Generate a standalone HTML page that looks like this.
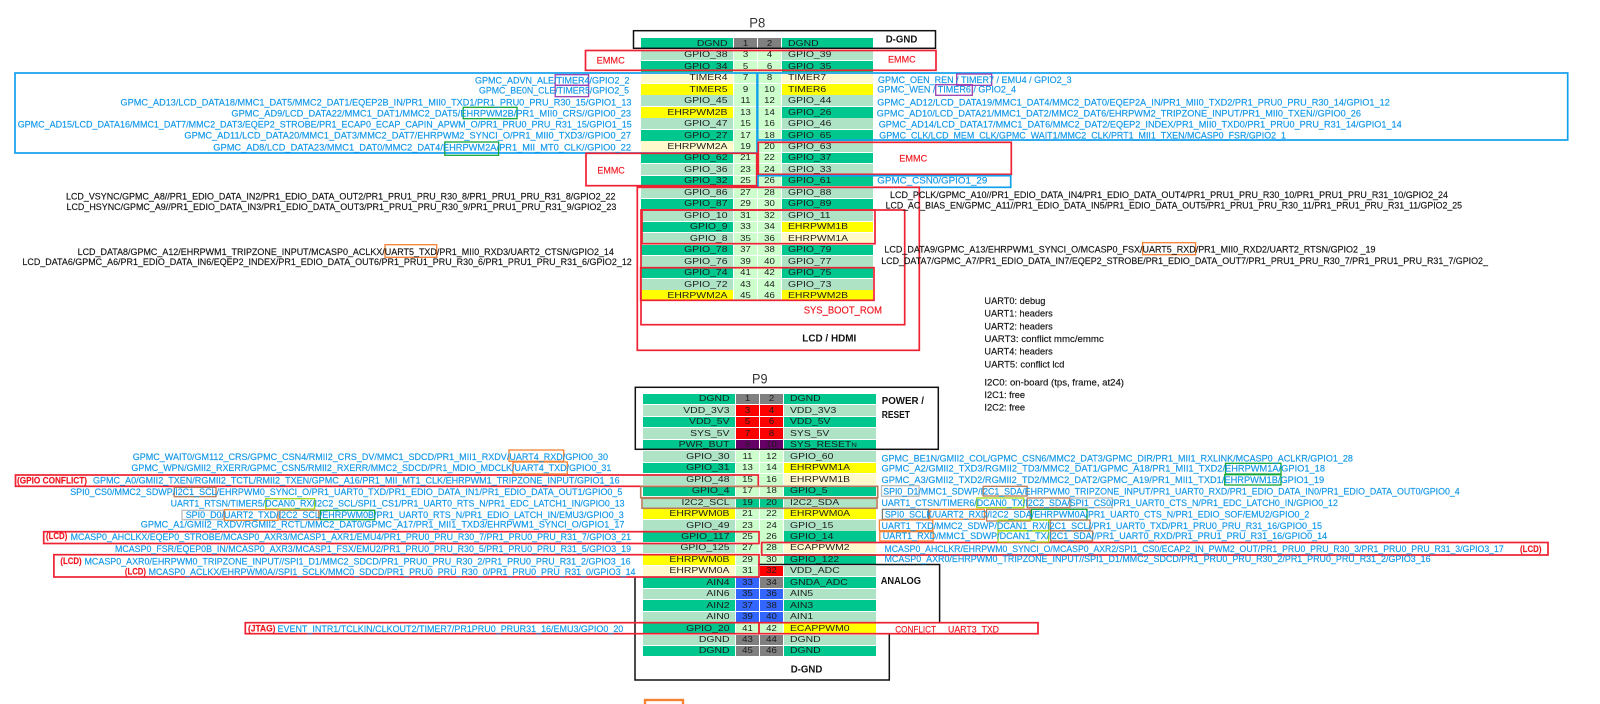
<!DOCTYPE html>
<html><head><meta charset="utf-8"><title>BeagleBone P8 P9</title>
<style>
html,body{margin:0;padding:0;background:#fff}
#w{position:relative;width:1600px;height:704px;overflow:hidden;background:#fff;font-family:"Liberation Sans",sans-serif}
.r{position:absolute;left:0;width:1600px;height:10.5px}
.r b{position:absolute;top:0;height:10.5px;font-weight:normal;font-size:8px;line-height:10.5px;color:#1c1c1c;white-space:nowrap}
.r i{display:block;font-style:normal;position:relative;top:.8px}
.p8 .a{left:641px;width:92px}.p8 .b{left:734px;width:23px}.p8 .c{left:758px;width:23px}.p8 .d{left:782px;width:91px}
.p9 .a{left:643px;width:92px}.p9 .b{left:736px;width:23px}.p9 .c{left:760px;width:23px}.p9 .d{left:784px;width:92px}
.a i{text-align:right;margin-right:5.5px;transform:scaleX(1.3);transform-origin:100% 50%}
.d i{text-align:left;margin-left:5.5px;transform:scaleX(1.3);transform-origin:0 50%}
.b i,.c i{text-align:center;transform:scaleX(1.2);transform-origin:50% 50%}
.b,.c{background:#ccffcc}
.g{background:#00c78e}.l{background:#aee3c6}.y{background:#ffff00}.p{background:#fff9cc}
.b.k,.c.k{background:#808080}.b.x,.c.x{background:#ff0000}.b.u,.c.u{background:#660066}.b.e,.c.e{background:#3366ff}.b.g,.c.g{background:#00c78e}
svg{position:absolute;left:0;top:0}
svg text{font-family:"Liberation Sans",sans-serif;font-size:9.5px}
.bl{fill:#0f96e8;stroke:#0f96e8;stroke-width:.15}.n{fill:#111;stroke:#111;stroke-width:.15}.rd{fill:#f0141e;stroke:#f0141e;stroke-width:.15}
.bd{font-weight:bold;font-size:10px;fill:#111}
.ti{font-size:14px;fill:#333}
rect{fill:none}
.B{stroke:#10a0ee;stroke-width:1.7}.R{stroke:#ee2233;stroke-width:1.7}.K{stroke:#111;stroke-width:1.5}
.Pu{stroke:#9a3fb0;stroke-width:1.3}.Gr{stroke:#13a538;stroke-width:1.3}.O{stroke:#f58233;stroke-width:1.3}
.Br{stroke:#b87a58;stroke-width:1.3}.Li{stroke:#a3d91a;stroke-width:1.3}.Gy{stroke:#bbbbbb;stroke-width:1.3}.Dg{stroke:#777;stroke-width:1.3}
</style></head><body><div id="w">

<div class="r p8" style="top:38px"><b class="a g"><i>DGND</i></b><b class="b k"><i>1</i></b><b class="c k"><i>2</i></b><b class="d g"><i>DGND</i></b></div>
<div class="r p8" style="top:49.5px"><b class="a l"><i>GPIO_38</i></b><b class="b"><i>3</i></b><b class="c"><i>4</i></b><b class="d l"><i>GPIO_39</i></b></div>
<div class="r p8" style="top:61px"><b class="a g"><i>GPIO_34</i></b><b class="b"><i>5</i></b><b class="c"><i>6</i></b><b class="d g"><i>GPIO_35</i></b></div>
<div class="r p8" style="top:72px"><b class="a p"><i>TIMER4</i></b><b class="b"><i>7</i></b><b class="c"><i>8</i></b><b class="d p"><i>TIMER7</i></b></div>
<div class="r p8" style="top:84px"><b class="a y"><i>TIMER5</i></b><b class="b"><i>9</i></b><b class="c"><i>10</i></b><b class="d y"><i>TIMER6</i></b></div>
<div class="r p8" style="top:95px"><b class="a l"><i>GPIO_45</i></b><b class="b"><i>11</i></b><b class="c"><i>12</i></b><b class="d l"><i>GPIO_44</i></b></div>
<div class="r p8" style="top:107px"><b class="a y"><i>EHRPWM2B</i></b><b class="b"><i>13</i></b><b class="c"><i>14</i></b><b class="d g"><i>GPIO_26</i></b></div>
<div class="r p8" style="top:118px"><b class="a l"><i>GPIO_47</i></b><b class="b"><i>15</i></b><b class="c"><i>16</i></b><b class="d l"><i>GPIO_46</i></b></div>
<div class="r p8" style="top:130px"><b class="a g"><i>GPIO_27</i></b><b class="b"><i>17</i></b><b class="c"><i>18</i></b><b class="d g"><i>GPIO_65</i></b></div>
<div class="r p8" style="top:141px"><b class="a p"><i>EHRPWM2A</i></b><b class="b"><i>19</i></b><b class="c"><i>20</i></b><b class="d l"><i>GPIO_63</i></b></div>
<div class="r p8" style="top:152.5px"><b class="a g"><i>GPIO_62</i></b><b class="b"><i>21</i></b><b class="c"><i>22</i></b><b class="d g"><i>GPIO_37</i></b></div>
<div class="r p8" style="top:164px"><b class="a l"><i>GPIO_36</i></b><b class="b"><i>23</i></b><b class="c"><i>24</i></b><b class="d l"><i>GPIO_33</i></b></div>
<div class="r p8" style="top:175.5px"><b class="a g"><i>GPIO_32</i></b><b class="b"><i>25</i></b><b class="c"><i>26</i></b><b class="d g"><i>GPIO_61</i></b></div>
<div class="r p8" style="top:187px"><b class="a l"><i>GPIO_86</i></b><b class="b"><i>27</i></b><b class="c"><i>28</i></b><b class="d l"><i>GPIO_88</i></b></div>
<div class="r p8" style="top:198.5px"><b class="a g"><i>GPIO_87</i></b><b class="b"><i>29</i></b><b class="c"><i>30</i></b><b class="d g"><i>GPIO_89</i></b></div>
<div class="r p8" style="top:210px"><b class="a l"><i>GPIO_10</i></b><b class="b"><i>31</i></b><b class="c"><i>32</i></b><b class="d l"><i>GPIO_11</i></b></div>
<div class="r p8" style="top:221.5px"><b class="a g"><i>GPIO_9</i></b><b class="b"><i>33</i></b><b class="c"><i>34</i></b><b class="d y"><i>EHRPWM1B</i></b></div>
<div class="r p8" style="top:233px"><b class="a l"><i>GPIO_8</i></b><b class="b"><i>35</i></b><b class="c"><i>36</i></b><b class="d p"><i>EHRPWM1A</i></b></div>
<div class="r p8" style="top:244.5px"><b class="a g"><i>GPIO_78</i></b><b class="b"><i>37</i></b><b class="c"><i>38</i></b><b class="d g"><i>GPIO_79</i></b></div>
<div class="r p8" style="top:256px"><b class="a l"><i>GPIO_76</i></b><b class="b"><i>39</i></b><b class="c"><i>40</i></b><b class="d l"><i>GPIO_77</i></b></div>
<div class="r p8" style="top:267.5px"><b class="a g"><i>GPIO_74</i></b><b class="b"><i>41</i></b><b class="c"><i>42</i></b><b class="d g"><i>GPIO_75</i></b></div>
<div class="r p8" style="top:279px"><b class="a l"><i>GPIO_72</i></b><b class="b"><i>43</i></b><b class="c"><i>44</i></b><b class="d l"><i>GPIO_73</i></b></div>
<div class="r p8" style="top:290px"><b class="a y"><i>EHRPWM2A</i></b><b class="b"><i>45</i></b><b class="c"><i>46</i></b><b class="d y"><i>EHRPWM2B</i></b></div>

<div class="r p9" style="top:393.5px"><b class="a g"><i>DGND</i></b><b class="b k"><i>1</i></b><b class="c k"><i>2</i></b><b class="d g"><i>DGND</i></b></div>
<div class="r p9" style="top:405px"><b class="a l"><i>VDD_3V3</i></b><b class="b x"><i>3</i></b><b class="c x"><i>4</i></b><b class="d l"><i>VDD_3V3</i></b></div>
<div class="r p9" style="top:416.5px"><b class="a g"><i>VDD_5V</i></b><b class="b x"><i>5</i></b><b class="c x"><i>6</i></b><b class="d g"><i>VDD_5V</i></b></div>
<div class="r p9" style="top:428px"><b class="a l"><i>SYS_5V</i></b><b class="b x"><i>7</i></b><b class="c x"><i>8</i></b><b class="d l"><i>SYS_5V</i></b></div>
<div class="r p9" style="top:439.5px"><b class="a g"><i>PWR_BUT</i></b><b class="b u"><i>9</i></b><b class="c u"><i>10</i></b><b class="d g"><i>SYS_RESET<small style="font-size:6px">N</small></i></b></div>
<div class="r p9" style="top:451px"><b class="a l"><i>GPIO_30</i></b><b class="b"><i>11</i></b><b class="c"><i>12</i></b><b class="d l"><i>GPIO_60</i></b></div>
<div class="r p9" style="top:462.5px"><b class="a g"><i>GPIO_31</i></b><b class="b"><i>13</i></b><b class="c"><i>14</i></b><b class="d y"><i>EHRPWM1A</i></b></div>
<div class="r p9" style="top:474px"><b class="a l"><i>GPIO_48</i></b><b class="b"><i>15</i></b><b class="c"><i>16</i></b><b class="d p"><i>EHRPWM1B</i></b></div>
<div class="r p9" style="top:485.5px"><b class="a g"><i>GPIO_4</i></b><b class="b"><i>17</i></b><b class="c"><i>18</i></b><b class="d g"><i>GPIO_5</i></b></div>
<div class="r p9" style="top:497px"><b class="a l"><i>I2C2_SCL</i></b><b class="b g"><i>19</i></b><b class="c g"><i>20</i></b><b class="d l"><i>I2C2_SDA</i></b></div>
<div class="r p9" style="top:508px"><b class="a y"><i>EHRPWM0B</i></b><b class="b"><i>21</i></b><b class="c"><i>22</i></b><b class="d y"><i>EHRPWM0A</i></b></div>
<div class="r p9" style="top:520px"><b class="a l"><i>GPIO_49</i></b><b class="b"><i>23</i></b><b class="c"><i>24</i></b><b class="d l"><i>GPIO_15</i></b></div>
<div class="r p9" style="top:531px"><b class="a g"><i>GPIO_117</i></b><b class="b"><i>25</i></b><b class="c"><i>26</i></b><b class="d g"><i>GPIO_14</i></b></div>
<div class="r p9" style="top:542.5px"><b class="a l"><i>GPIO_125</i></b><b class="b"><i>27</i></b><b class="c"><i>28</i></b><b class="d p"><i>ECAPPWM2</i></b></div>
<div class="r p9" style="top:554px"><b class="a y"><i>EHRPWM0B</i></b><b class="b"><i>29</i></b><b class="c"><i>30</i></b><b class="d g"><i>GPIO_122</i></b></div>
<div class="r p9" style="top:565.5px"><b class="a p"><i>EHRPWM0A</i></b><b class="b"><i>31</i></b><b class="c x"><i>32</i></b><b class="d l"><i>VDD_ADC</i></b></div>
<div class="r p9" style="top:577px"><b class="a g"><i>AIN4</i></b><b class="b e"><i>33</i></b><b class="c k"><i>34</i></b><b class="d g"><i>GNDA_ADC</i></b></div>
<div class="r p9" style="top:588.5px"><b class="a l"><i>AIN6</i></b><b class="b e"><i>35</i></b><b class="c e"><i>36</i></b><b class="d l"><i>AIN5</i></b></div>
<div class="r p9" style="top:600px"><b class="a g"><i>AIN2</i></b><b class="b e"><i>37</i></b><b class="c e"><i>38</i></b><b class="d g"><i>AIN3</i></b></div>
<div class="r p9" style="top:611.5px"><b class="a l"><i>AIN0</i></b><b class="b e"><i>39</i></b><b class="c e"><i>40</i></b><b class="d l"><i>AIN1</i></b></div>
<div class="r p9" style="top:623px"><b class="a g"><i>GPIO_20</i></b><b class="b"><i>41</i></b><b class="c"><i>42</i></b><b class="d y"><i>ECAPPWM0</i></b></div>
<div class="r p9" style="top:634.5px"><b class="a l"><i>DGND</i></b><b class="b k"><i>43</i></b><b class="c k"><i>44</i></b><b class="d l"><i>DGND</i></b></div>
<div class="r p9" style="top:645.5px"><b class="a g"><i>DGND</i></b><b class="b k"><i>45</i></b><b class="c k"><i>46</i></b><b class="d g"><i>DGND</i></b></div>

<svg width="1600" height="704" viewBox="0 0 1600 704" xmlns="http://www.w3.org/2000/svg">
<!-- P8 boxes -->
<rect class="K" x="633.5" y="30.7" width="302" height="17.6"/>
<rect class="B" x="15" y="73" width="742" height="80"/>
<rect class="B" x="757.7" y="73" width="810" height="67"/>
<rect class="R" x="585.5" y="50.5" width="350.5" height="19.8"/>
<rect class="R" x="586" y="153.3" width="170.7" height="32.4"/>
<rect class="R" x="758.3" y="142.3" width="253" height="32"/>
<rect class="B" x="758" y="175.7" width="252.7" height="11.6"/>
<rect class="R" x="637.3" y="187.3" width="282" height="163"/>
<rect class="R" x="641" y="210" width="263.7" height="114.7"/>
<rect class="R" x="642" y="210" width="233" height="33.7"/>
<rect class="R" x="640.7" y="267.7" width="233.3" height="32.6"/>
<rect class="Pu" x="555.2" y="74.7" width="33.4" height="10.6"/>
<rect class="Pu" x="555.2" y="85.3" width="33.4" height="11.4"/>
<rect class="Gr" x="463.2" y="107.3" width="53.8" height="11.4"/>
<rect class="Gr" x="444.8" y="142" width="53.8" height="13.3"/>
<rect class="Pu" x="956.7" y="74" width="35" height="11.3"/>
<rect class="Pu" x="935.7" y="84.7" width="36.6" height="10.6"/>
<rect class="O" x="385" y="244.7" width="51.7" height="12.6"/>
<rect class="O" x="1142.6" y="242.7" width="53" height="12"/>

<!-- P8 text -->
<text class="ti" x="749.3" y="27.7" textLength="16" lengthAdjust="spacingAndGlyphs">P8</text>
<text class="bd" x="885.7" y="42.5" textLength="31.6" lengthAdjust="spacingAndGlyphs">D-GND</text>
<text class="rd" x="596.6" y="63.7" textLength="28.2" lengthAdjust="spacingAndGlyphs">EMMC</text>
<text class="rd" x="888" y="62.3" textLength="27.7" lengthAdjust="spacingAndGlyphs">EMMC</text>
<text class="rd" x="597.4" y="173.7" textLength="27.4" lengthAdjust="spacingAndGlyphs">EMMC</text>
<text class="rd" x="899.3" y="161.3" textLength="28" lengthAdjust="spacingAndGlyphs">EMMC</text>

<text class="bl" x="475" y="83.7" textLength="154.5" lengthAdjust="spacingAndGlyphs">GPMC_ADVN_ALE/TIMER4/GPIO2_2</text>
<text class="bl" x="479" y="93.7" textLength="150" lengthAdjust="spacingAndGlyphs">GPMC_BE0N_CLE/TIMER5/GPIO2_5</text>
<text class="bl" x="120.5" y="105.3" textLength="511" lengthAdjust="spacingAndGlyphs">GPMC_AD13/LCD_DATA18/MMC1_DAT5/MMC2_DAT1/EQEP2B_IN/PR1_MII0_TXD1/PR1_PRU0_PRU_R30_15/GPIO1_13</text>
<text class="bl" x="231.4" y="116.3" textLength="399.6" lengthAdjust="spacingAndGlyphs">GPMC_AD9/LCD_DATA22/MMC1_DAT1/MMC2_DAT5/EHRPWM2B/PR1_MII0_CRS//GPIO0_23</text>
<text class="bl" x="17.7" y="127.3" textLength="614" lengthAdjust="spacingAndGlyphs">GPMC_AD15/LCD_DATA16/MMC1_DAT7/MMC2_DAT3/EQEP2_STROBE/PR1_ECAP0_ECAP_CAPIN_APWM_O/PR1_PRU0_PRU_R31_15/GPIO1_15</text>
<text class="bl" x="184.4" y="138.3" textLength="446.6" lengthAdjust="spacingAndGlyphs">GPMC_AD11/LCD_DATA20/MMC1_DAT3/MMC2_DAT7/EHRPWM2_SYNCI_O/PR1_MII0_TXD3//GPIO0_27</text>
<text class="bl" x="213.3" y="150.3" textLength="417.7" lengthAdjust="spacingAndGlyphs">GPMC_AD8/LCD_DATA23/MMC1_DAT0/MMC2_DAT4/EHRPWM2A/PR1_MII_MT0_CLK//GPIO0_22</text>

<text class="bl" x="878" y="83" textLength="193.7" lengthAdjust="spacingAndGlyphs">GPMC_OEN_REN / TIMER7 / EMU4 / GPIO2_3</text>
<text class="bl" x="877.3" y="92.7" textLength="138.7" lengthAdjust="spacingAndGlyphs">GPMC_WEN / TIMER6 / GPIO2_4</text>
<text class="bl" x="877.3" y="105.3" textLength="512.5" lengthAdjust="spacingAndGlyphs">GPMC_AD12/LCD_DATA19/MMC1_DAT4/MMC2_DAT0/EQEP2A_IN/PR1_MII0_TXD2/PR1_PRU0_PRU_R30_14/GPIO1_12</text>
<text class="bl" x="876.7" y="116.3" textLength="484.3" lengthAdjust="spacingAndGlyphs">GPMC_AD10/LCD_DATA21/MMC1_DAT2/MMC2_DAT6/EHRPWM2_TRIPZONE_INPUT/PR1_MII0_TXEN//GPIO0_26</text>
<text class="bl" x="878.7" y="127.3" textLength="523" lengthAdjust="spacingAndGlyphs">GPMC_AD14/LCD_DATA17/MMC1_DAT6/MMC2_DAT2/EQEP2_INDEX/PR1_MII0_TXD0/PR1_PRU0_PRU_R31_14/GPIO1_14</text>
<text class="bl" x="879.3" y="138.7" textLength="406.7" lengthAdjust="spacingAndGlyphs">GPMC_CLK/LCD_MEM_CLK/GPMC_WAIT1/MMC2_CLK/PRT1_MII1_TXEN/MCASP0_FSR/GPIO2_1</text>
<text class="bl" x="877.3" y="183.7" textLength="110" lengthAdjust="spacingAndGlyphs">GPMC_CSN0/GPIO1_29</text>

<text class="n" x="66" y="199.7" textLength="549.5" lengthAdjust="spacingAndGlyphs">LCD_VSYNC/GPMC_A8//PR1_EDIO_DATA_IN2/PR1_EDIO_DATA_OUT2/PR1_PRU1_PRU_R30_8/PR1_PRU1_PRU_R31_8/GPIO2_22</text>
<text class="n" x="66.5" y="210" textLength="549.8" lengthAdjust="spacingAndGlyphs">LCD_HSYNC/GPMC_A9//PR1_EDIO_DATA_IN3/PR1_EDIO_DATA_OUT3/PR1_PRU1_PRU_R30_9/PR1_PRU1_PRU_R31_9/GPIO2_23</text>
<text class="n" x="77.6" y="255" textLength="536.3" lengthAdjust="spacingAndGlyphs">LCD_DATA8/GPMC_A12/EHRPWM1_TRIPZONE_INPUT/MCASP0_ACLKX/UART5_TXD/PR1_MII0_RXD3/UART2_CTSN/GPIO2_14</text>
<text class="n" x="22.4" y="265" textLength="609.4" lengthAdjust="spacingAndGlyphs">LCD_DATA6/GPMC_A6/PR1_EDIO_DATA_IN6/EQEP2_INDEX/PR1_EDIO_DATA_OUT6/PR1_PRU1_PRU_R30_6/PR1_PRU1_PRU_R31_6/GPIO2_12</text>
<text class="n" x="890" y="198" textLength="558" lengthAdjust="spacingAndGlyphs">LCD_PCLK/GPMC_A10//PR1_EDIO_DATA_IN4/PR1_EDIO_DATA_OUT4/PR1_PRU1_PRU_R30_10/PR1_PRU1_PRU_R31_10/GPIO2_24</text>
<text class="n" x="885.6" y="208.5" textLength="576.4" lengthAdjust="spacingAndGlyphs">LCD_AC_BIAS_EN/GPMC_A11//PR1_EDIO_DATA_IN5/PR1_EDIO_DATA_OUT5/PR1_PRU1_PRU_R30_11/PR1_PRU1_PRU_R31_11/GPIO2_25</text>
<text class="n" x="884.4" y="252.3" textLength="491.1" lengthAdjust="spacingAndGlyphs">LCD_DATA9/GPMC_A13/EHRPWM1_SYNCI_O/MCASP0_FSX/UART5_RXD/PR1_MII0_RXD2/UART2_RTSN/GPIO2 _19</text>
<text class="n" x="881.2" y="264" textLength="606.8" lengthAdjust="spacingAndGlyphs">LCD_DATA7/GPMC_A7/PR1_EDIO_DATA_IN7/EQEP2_STROBE/PR1_EDIO_DATA_OUT7/PR1_PRU1_PRU_R30_7/PR1_PRU1_PRU_R31_7/GPIO2_</text>

<text class="rd" x="803.7" y="313.5" textLength="78.3" lengthAdjust="spacingAndGlyphs" style="font-size:10px">SYS_BOOT_ROM</text>
<text class="bd" x="802.3" y="341.5" textLength="54" lengthAdjust="spacingAndGlyphs">LCD / HDMI</text>

<!-- Notes -->
<text class="n" x="984.4" y="304" textLength="61" lengthAdjust="spacingAndGlyphs">UART0: debug</text>
<text class="n" x="984.4" y="316.7" textLength="68.4" lengthAdjust="spacingAndGlyphs">UART1: headers</text>
<text class="n" x="984.4" y="329.3" textLength="68.4" lengthAdjust="spacingAndGlyphs">UART2: headers</text>
<text class="n" x="984.4" y="342" textLength="119.4" lengthAdjust="spacingAndGlyphs">UART3: conflict mmc/emmc</text>
<text class="n" x="984.4" y="354.7" textLength="68.4" lengthAdjust="spacingAndGlyphs">UART4: headers</text>
<text class="n" x="984.4" y="367.3" textLength="80" lengthAdjust="spacingAndGlyphs">UART5: conflict lcd</text>
<text class="n" x="984.4" y="385.3" textLength="139.6" lengthAdjust="spacingAndGlyphs">I2C0: on-board (tps, frame, at24)</text>
<text class="n" x="984.4" y="398" textLength="40.7" lengthAdjust="spacingAndGlyphs">I2C1: free</text>
<text class="n" x="984.4" y="410.3" textLength="40.7" lengthAdjust="spacingAndGlyphs">I2C2: free</text>

<!-- P9 boxes -->
<rect class="K" x="635.3" y="387.3" width="303" height="62"/>
<path class="K" d="M758 564.5H939.6V622.7M635 577V680H889.3V634" fill="none"/>
<rect class="R" x="15.5" y="475" width="742.8" height="11.3"/>
<rect class="Br" x="640.7" y="486.3" width="237" height="11.4" style="stroke-width:1.6"/>
<rect class="Br" x="642" y="498.3" width="235" height="10" style="stroke-width:1.6"/>
<rect class="R" x="43.7" y="531.7" width="715.3" height="11.8"/>
<rect class="R" x="761.7" y="542.5" width="786.3" height="12.5"/>
<rect class="R" x="53.9" y="554.7" width="705.1" height="22.3"/>
<rect class="R" x="245.3" y="622.7" width="513.7" height="11"/>
<rect class="R" x="759" y="622.7" width="279" height="11"/>
<rect class="O" x="645" y="700" width="38" height="6" style="stroke-width:2.4"/>

<rect class="O" x="509" y="450" width="54.7" height="11.3"/>
<rect class="O" x="513" y="462" width="54.3" height="12"/>
<rect class="Br" x="174.3" y="487.3" width="41.7" height="9.4"/>
<rect class="Li" x="265.7" y="498.7" width="49" height="10.3"/>
<rect class="Gy" x="182" y="510.3" width="41.7" height="9.4"/>
<rect class="O" x="224.5" y="509.7" width="53.5" height="10.6"/>
<rect class="Br" x="280" y="510.3" width="38.8" height="9.4"/>
<rect class="Gr" x="320.4" y="510.3" width="54.3" height="9.4"/>

<rect class="Gr" x="1225.5" y="463.3" width="55.5" height="10.7"/>
<rect class="Gr" x="1224.7" y="474.7" width="56.3" height="10.3"/>
<rect class="Gy" x="881.5" y="485.7" width="37.5" height="10.6"/>
<rect class="Br" x="983.2" y="486.3" width="44" height="9.7"/>
<rect class="Li" x="976.8" y="498" width="47" height="9.7"/>
<rect class="Br" x="1027.2" y="498" width="42.8" height="9.7"/>
<rect class="Gy" x="1070.8" y="498" width="41.5" height="9.7"/>
<rect class="Dg" x="882.4" y="509.3" width="46.1" height="10"/>
<rect class="O" x="929.8" y="509.3" width="54.7" height="10"/>
<rect class="Br" x="986.6" y="509.3" width="43.6" height="11.7"/>
<rect class="Gr" x="1031.5" y="509.3" width="55.5" height="10.7"/>
<rect class="O" x="879.4" y="520" width="53.4" height="10.7"/>
<rect class="Li" x="998" y="520" width="50.6" height="10.7"/>
<rect class="Br" x="1050.3" y="520" width="39.7" height="10.7"/>
<rect class="O" x="879.8" y="531.7" width="53.4" height="9.3"/>
<rect class="Li" x="998" y="531" width="50.6" height="11"/>
<rect class="Br" x="1050.7" y="531" width="41.9" height="10"/>

<!-- P9 text -->
<text class="ti" x="752" y="383.3" textLength="15.5" lengthAdjust="spacingAndGlyphs">P9</text>
<text class="bd" x="881.7" y="404.2" textLength="42.3" lengthAdjust="spacingAndGlyphs">POWER /</text>
<text class="bd" x="881.7" y="418.2" textLength="28.3" lengthAdjust="spacingAndGlyphs">RESET</text>
<text class="bd" x="880.7" y="584.2" textLength="40.3" lengthAdjust="spacingAndGlyphs">ANALOG</text>
<text class="bd" x="790.7" y="672.5" textLength="31.6" lengthAdjust="spacingAndGlyphs">D-GND</text>

<text class="bl" x="132.7" y="460" textLength="475.3" lengthAdjust="spacingAndGlyphs">GPMC_WAIT0/GM112_CRS/GPMC_CSN4/RMII2_CRS_DV/MMC1_SDCD/PR1_MII1_RXDV/UART4_RXD/GPIO0_30</text>
<text class="bl" x="131.4" y="471" textLength="480" lengthAdjust="spacingAndGlyphs">GPMC_WPN/GMII2_RXERR/GPMC_CSN5/RMII2_RXERR/MMC2_SDCD/PR1_MDIO_MDCLK/UART4_TXD/GPIO0_31</text>
<text class="rd" x="17" y="483.3" textLength="70" lengthAdjust="spacingAndGlyphs" style="font-weight:bold">(GPIO CONFLICT)</text>
<text class="bl" x="93" y="483.3" textLength="526.6" lengthAdjust="spacingAndGlyphs">GPMC_A0/GMII2_TXEN/RGMII2_TCTL/RMII2_TXEN/GPMC_A16/PR1_MII_MT1_CLK/EHRPWM1_TRIPZONE_INPUT/GPIO1_16</text>
<text class="bl" x="70.2" y="495" textLength="552.2" lengthAdjust="spacingAndGlyphs">SPI0_CS0/MMC2_SDWP/I2C1_SCL/EHRPWM0_SYNCI_O/PR1_UART0_TXD/PR1_EDIO_DATA_IN1/PR1_EDIO_DATA_OUT1/GPIO0_5</text>
<text class="bl" x="170.6" y="506.7" textLength="453.9" lengthAdjust="spacingAndGlyphs">UART1_RTSN/TIMER5/DCAN0_RX/I2C2_SCL/SPI1_CS1/PR1_UART0_RTS_N/PR1_EDC_LATCH1_IN/GPIO0_13</text>
<text class="bl" x="185.7" y="518" textLength="438" lengthAdjust="spacingAndGlyphs">SPI0_D0/UART2_TXD/I2C2_SCL/EHRPWM0B/PR1_UART0_RTS_N/PR1_EDIO_LATCH_IN/EMU3/GPIO0_3</text>
<text class="bl" x="140.8" y="527.7" textLength="483.7" lengthAdjust="spacingAndGlyphs">GPMC_A1/GMII2_RXDV/RGMII2_RCTL/MMC2_DAT0/GPMC_A17/PR1_MII1_TXD3/EHRPWM1_SYNCI_O/GPIO1_17</text>
<text class="rd" x="46" y="539" textLength="21.3" lengthAdjust="spacingAndGlyphs" style="font-weight:bold">(LCD)</text>
<text class="bl" x="70.6" y="540" textLength="560.4" lengthAdjust="spacingAndGlyphs">MCASP0_AHCLKX/EQEP0_STROBE/MCASP0_AXR3/MCASP1_AXR1/EMU4/PR1_PRU0_PRU_R30_7/PR1_PRU0_PRU_R31_7/GPIO3_21</text>
<text class="bl" x="115" y="552" textLength="516" lengthAdjust="spacingAndGlyphs">MCASP0_FSR/EQEP0B_IN/MCASP0_AXR3/MCASP1_FSX/EMU2/PR1_PRU0_PRU_R30_5/PR1_PRU0_PRU_R31_5/GPIO3_19</text>
<text class="rd" x="60.4" y="564" textLength="21.2" lengthAdjust="spacingAndGlyphs" style="font-weight:bold">(LCD)</text>
<text class="bl" x="84.5" y="564.7" textLength="546.1" lengthAdjust="spacingAndGlyphs">MCASP0_AXR0/EHRPWM0_TRIPZONE_INPUT//SPI1_D1/MMC2_SDCD/PR1_PRU0_PRU_R30_2/PR1_PRU0_PRU_R31_2/GPIO3_16</text>
<text class="rd" x="124.9" y="574.7" textLength="21.1" lengthAdjust="spacingAndGlyphs" style="font-weight:bold">(LCD)</text>
<text class="bl" x="148.6" y="575" textLength="486.9" lengthAdjust="spacingAndGlyphs">MCASP0_ACLKX/EHRPWM0A//SPI1_SCLK/MMC0_SDCD/PR1_PRU0_PRU_R30_0/PR1_PRU0_PRU_R31_0/GPIO3_14</text>

<text class="rd" x="248" y="631.5" textLength="27.5" lengthAdjust="spacingAndGlyphs" style="font-weight:bold">(JTAG)</text>
<text class="bl" x="277.5" y="632" textLength="345.8" lengthAdjust="spacingAndGlyphs">EVENT_INTR1/TCLKIN/CLKOUT2/TIMER7/PR1PRU0_PRUR31_16/EMU3/GPIO0_20</text>
<text class="rd" x="895.3" y="632.3" textLength="40.7" lengthAdjust="spacingAndGlyphs">CONFLICT</text>
<text class="rd" x="948" y="632.3" textLength="51" lengthAdjust="spacingAndGlyphs">UART3_TXD</text>

<text class="bl" x="881.5" y="461.3" textLength="471.4" lengthAdjust="spacingAndGlyphs">GPMC_BE1N/GMII2_COL/GPMC_CSN6/MMC2_DAT3/GPMC_DIR/PR1_MII1_RXLINK/MCASP0_ACLKR/GPIO1_28</text>
<text class="bl" x="881.5" y="471.7" textLength="443.5" lengthAdjust="spacingAndGlyphs">GPMC_A2/GMII2_TXD3/RGMII2_TD3/MMC2_DAT1/GPMC_A18/PR1_MII1_TXD2/EHRPWM1A/GPIO1_18</text>
<text class="bl" x="881.5" y="483" textLength="442.7" lengthAdjust="spacingAndGlyphs">GPMC_A3/GMII2_TXD2/RGMII2_TD2/MMC2_DAT2/GPMC_A19/PR1_MII1_TXD1/EHRPWM1B/GPIO1_19</text>
<text class="bl" x="883.2" y="494.3" textLength="576.5" lengthAdjust="spacingAndGlyphs">SPI0_D1/MMC1_SDWP/I2C1_SDA/EHRPWM0_TRIPZONE_INPUT/PR1_UART0_RXD/PR1_EDIO_DATA_IN0/PR1_EDIO_DATA_OUT0/GPIO0_4</text>
<text class="bl" x="881.5" y="506" textLength="456.4" lengthAdjust="spacingAndGlyphs">UART1_CTSN/TIMER6/DCAN0_TX/I2C2_SDA/SPI1_CS0/PR1_UART0_CTS_N/PR1_EDC_LATCH0_IN/GPIO0_12</text>
<text class="bl" x="884.9" y="517.7" textLength="424.4" lengthAdjust="spacingAndGlyphs">SPI0_SCLK/UART2_RXD/I2C2_SDA/EHRPWM0A/PR1_UART0_CTS_N/PR1_EDIO_SOF/EMU2/GPIO0_2</text>
<text class="bl" x="881.5" y="529" textLength="440.5" lengthAdjust="spacingAndGlyphs">UART1_TXD/MMC2_SDWP/DCAN1_RX/I2C1_SCL//PR1_UART0_TXD/PR1_PRU0_PRU_R31_16/GPIO0_15</text>
<text class="bl" x="882.8" y="539" textLength="444.4" lengthAdjust="spacingAndGlyphs">UART1_RXD/MMC1_SDWP/DCAN1_TX/I2C1_SDA//PR1_UART0_RXD/PR1_PRU1_PRU_R31_16/GPIO0_14</text>
<text class="bl" x="884.5" y="552" textLength="619.2" lengthAdjust="spacingAndGlyphs">MCASP0_AHCLKR/EHRPWM0_SYNCI_O/MCASP0_AXR2/SPI1_CS0/ECAP2_IN_PWM2_OUT/PR1_PRU0_PRU_R30_3/PR1_PRU0_PRU_R31_3/GPIO3_17</text>
<text class="rd" x="1520" y="552" textLength="21.5" lengthAdjust="spacingAndGlyphs" style="font-weight:bold">(LCD)</text>
<text class="bl" x="884.5" y="562" textLength="546.1" lengthAdjust="spacingAndGlyphs">MCASP0_AXR0/EHRPWM0_TRIPZONE_INPUT//SPI1_D1/MMC2_SDCD/PR1_PRU0_PRU_R30_2/PR1_PRU0_PRU_R31_2/GPIO3_16</text>
</svg>
</div></body></html>
